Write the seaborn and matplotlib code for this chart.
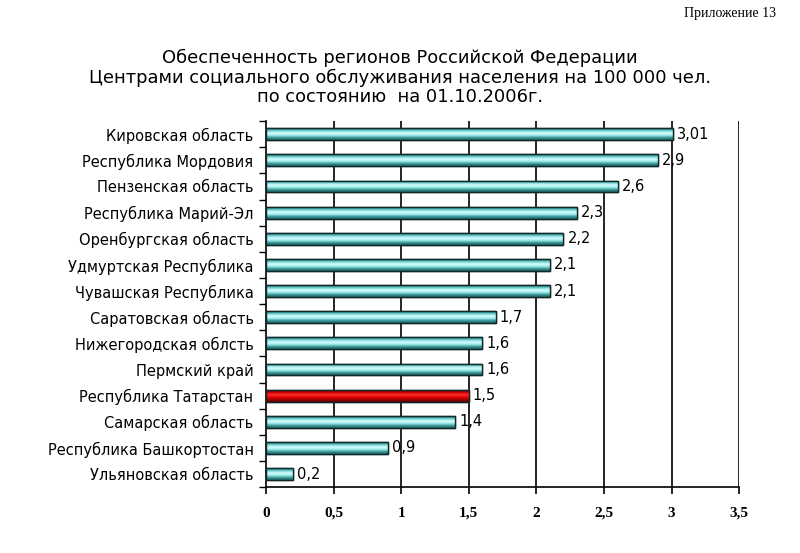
import matplotlib
matplotlib.use("Agg")
import matplotlib.pyplot as plt
import seaborn as sns
import numpy as np
import pandas as pd
from matplotlib.colors import LinearSegmentedColormap

regions = ["Кировская область", "Республика Мордовия", "Пензенская область",
           "Республика Марий-Эл", "Оренбургская область", "Удмуртская Республика",
           "Чувашская Республика", "Саратовская область", "Нижегородская облсть",
           "Пермский край", "Республика Татарстан", "Самарская область",
           "Республика Башкортостан", "Ульяновская область"]
values = [3.01, 2.9, 2.6, 2.3, 2.2, 2.1, 2.1, 1.7, 1.6, 1.6, 1.5, 1.4, 0.9, 0.2]
value_labels = ["3,01", "2,9", "2,6", "2,3", "2,2", "2,1", "2,1", "1,7", "1,6", "1,6", "1,5", "1,4", "0,9", "0,2"]
x_ticks = [0, 0.5, 1, 1.5, 2, 2.5, 3, 3.5]
x_tick_labels = ["0", "0,5", "1", "1,5", "2", "2,5", "3", "3,5"]
highlight = "Республика Татарстан"

sns.set_theme(style="white")
plt.rcParams['font.family'] = ['DejaVu Sans']
plt.rcParams['text.color'] = 'black'
plt.rcParams['xtick.color'] = 'black'
plt.rcParams['ytick.color'] = 'black'

df = pd.DataFrame({"region": regions, "value": values})
fig = plt.figure(figsize=(8, 5.53), dpi=100)
ax = fig.add_axes([0.3325, 0.119, 0.924 - 0.3325, 0.781 - 0.119])

colors = ["#e00000" if r == highlight else "#8fe8e8" for r in regions]
sns.barplot(data=df, x="value", y="region", hue="region", palette=colors,
            legend=False, width=0.45, edgecolor="#1a3a3a", linewidth=1.0, ax=ax, zorder=3)

ax.set_xlim(0, 3.5)
ax.set_ylim(len(regions) - 0.5, -0.5)

cyl = LinearSegmentedColormap.from_list("cyl", ["#1f6f6f", "#5fc8c8", "#d8ffff", "#a8f0f0", "#3a9a9a", "#1f5f5f"])
red = LinearSegmentedColormap.from_list("red", ["#700000", "#d00000", "#ff3030", "#e00000", "#a00000", "#600000"])
grad = np.linspace(0, 1, 64).reshape(-1, 1)
for patch, r in zip(ax.patches, regions):
    x0, y0 = patch.get_x(), patch.get_y()
    w, h = patch.get_width(), patch.get_height()
    im = ax.imshow(grad, cmap=red if r == highlight else cyl, aspect="auto",
                   extent=[x0, x0 + w, y0 + h, y0], zorder=3.5, interpolation="bicubic")
    im.set_clip_path(patch)
    ax.add_patch(plt.Rectangle((x0, y0), w, h, fill=False, edgecolor="#102828", linewidth=1.0, zorder=4))

ax.set_xlim(0, 3.5)
ax.set_ylim(len(regions) - 0.5, -0.5)

for i, (v, lbl) in enumerate(zip(values, value_labels)):
    ax.text(v + 0.03, i, lbl, va="center", ha="left", fontsize=10.5, color="black", zorder=5)

ax.set_xticks(x_ticks)
ax.set_xticklabels(x_tick_labels, family="Liberation Serif", fontweight="bold", fontsize=11)
ax.set_yticks(range(len(regions)))
ax.set_yticklabels(regions, fontsize=10.5)
ax.set_xlabel("")
ax.set_ylabel("")

for x in x_ticks[1:]:
    ax.axvline(x, color="black", linewidth=1.2, zorder=1)

for s in ["top", "right"]:
    ax.spines[s].set_visible(False)
for s in ["left", "bottom"]:
    ax.spines[s].set_color("black")
    ax.spines[s].set_linewidth(1.2)

ax.tick_params(axis="x", direction="out", length=5, width=1.2, color="black", bottom=True, pad=9)
ax.tick_params(axis="y", length=0, pad=9)
ax.set_yticks(np.arange(-0.5, len(regions) + 0.5, 1), minor=True)
ax.tick_params(axis="y", which="minor", direction="out", length=5, width=1.0, color="black", left=True)

fig.text(0.5, 0.896, "Обеспеченность регионов Российской Федерации", ha="center", va="center", fontsize=12.9)
fig.text(0.5, 0.859, "Центрами социального обслуживания населения на 100 000 чел.", ha="center", va="center", fontsize=12.9)
fig.text(0.5, 0.824, "по состоянию  на 01.10.2006г.", ha="center", va="center", fontsize=12.9)
fig.text(0.97, 0.975, "Приложение 13", ha="right", va="center", fontsize=10, family="Liberation Serif")

fig.savefig("out.png", dpi=100, facecolor="white")
